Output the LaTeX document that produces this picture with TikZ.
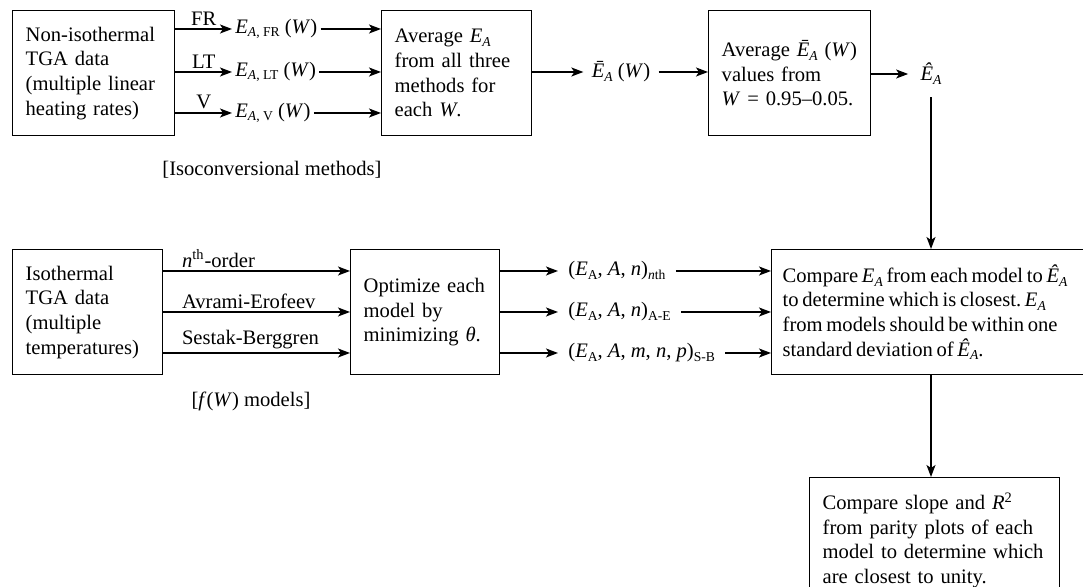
\documentclass[tikz,border=0pt]{standalone}
\usepackage{fontspec}
\setmainfont{Liberation Serif}
\usetikzlibrary{arrows.meta}
\newcommand{\lowsub}[1]{\raisebox{-.4ex}{\fontsize{6.8pt}{7pt}\selectfont #1}}
\newcommand{\EA}{\textit{E\lowsub{A}}}
\newcommand{\EAbar}{\textit{Ē\lowsub{A}}}
\newcommand{\EAhat}{\textit{Ê\lowsub{A}}}
\tikzset{
  flow box/.style={draw,line width=.7pt,anchor=north west,minimum height=62.5pt,inner xsep=6.5pt,align=left},
  flow arrow/.style={line width=.7pt,-{Stealth[length=6pt,width=4.5pt,inset=1.5pt]}},
  flow term/.style={inner xsep=1.5pt,anchor=west},
  flow label/.style={inner sep=1.5pt}
}

\begin{document}
\begin{tikzpicture}[x=.5pt,y=-.5pt,font=\fontsize{10.3pt}{12.3pt}\selectfont]
  \useasboundingbox (0,0) rectangle (1083,587);
  % top row: isoconversional methods
  \node[flow box,text width=68pt] (nonisot) at (12,10) {Non-isothermal\\TGA data\\(multiple linear\\heating rates)};
  \node[flow box,text width=62pt] (avg) at (381,10) {Average \EA\\from all three\\methods for\\each \textit{W}.};
  \node[flow box,text width=68pt] (avgw) at (708,10) {Average~\EAbar~(\textit{W})\\values from\\\textit{W} = 0.95–0.05.};
  \foreach \y/\m/\n in {29/FR/fr,72/LT/lt,113/V/v}{
    \node[flow term] (e\n) at (232,\y) {\textit{E}\lowsub{\textit{A}, \m} (\textit{W})\hspace{5pt}};
    \draw[flow arrow] (nonisot.east |- e\n.west) -- node[flow label,above] {\m} (e\n.west);
    \draw[flow arrow] (e\n.east) -- (e\n.east -| avg.west);
  }
  \node[inner xsep=4pt] (ebar) at (621,72) {\EAbar\ (\textit{W})};
  \node[inner xsep=6pt,inner ysep=6pt] (ehat) at (931,74) {\EAhat};
  \draw[flow arrow] (avg.east |- ebar.west) -- (ebar.west);
  \draw[flow arrow] (ebar.east) -- (ebar.east -| avgw.west);
  \draw[flow arrow] (avgw.east |- ehat.west) -- (ehat.west);
  \node (isonote) at (272,170) {[Isoconversional methods]};
  % bottom row: f(W) models
  \node[flow box,text width=62pt] (isot) at (12,249) {Isothermal\\TGA data\\(multiple\\temperatures)};
  \node[flow box,text width=61.5pt] (optim) at (350,249) {Optimize each\\model by\\minimizing \textit{θ}.};
  \node[flow box,text width=170pt,inner xsep=5.5pt,
    execute at begin node={\spaceskip=.18em plus .05em minus .02em}] (cmp) at (771,249)
    {Compare \EA\ from each model to~\EAhat\\to determine which is closest.\ \EA\\from models should be within one\\standard deviation of \EAhat.};
  \node[flow box,text width=112pt] (parity) at (809,477) {Compare slope and \textit{R}\textsuperscript{2}\\from parity plots of each\\model to determine which\\are closest to unity.};
  \foreach \y/\lab/\tup/\n in {271/{\textit{n}\textsuperscript{th}-order}/{(\textit{E}\lowsub{A}, \textit{A}, \textit{n})\lowsub{\textit{n}th}}/nth,
      312/{Avrami-Erofeev}/{(\textit{E}\lowsub{A}, \textit{A}, \textit{n})\lowsub{A-E}}/ae,
      353/{Sestak-Berggren}/{(\textit{E}\lowsub{A}, \textit{A}, \textit{m}, \textit{n}, \textit{p})\lowsub{S-B}}/sb}{
    \node[flow term,inner xsep=5pt] (t\n) at (558,\y) {\tup};
    \draw[flow arrow] (isot.east |- t\n.west) -- node[flow label,anchor=south west,pos=.08] {\lab} (optim.west |- t\n.west);
    \draw[flow arrow] (optim.east |- t\n.west) -- (t\n.west);
    \draw[flow arrow] (t\n.east) -- (t\n.east -| cmp.west);
  }
  \node (modnote) at (251,401) {[\textit{f}(\textit{W}) models]};
  \draw[flow arrow] (ehat.south) -- (ehat.south |- cmp.north);
  \draw[flow arrow] (cmp.south -| ehat) -- (parity.north -| ehat);
\end{tikzpicture}
\end{document}
